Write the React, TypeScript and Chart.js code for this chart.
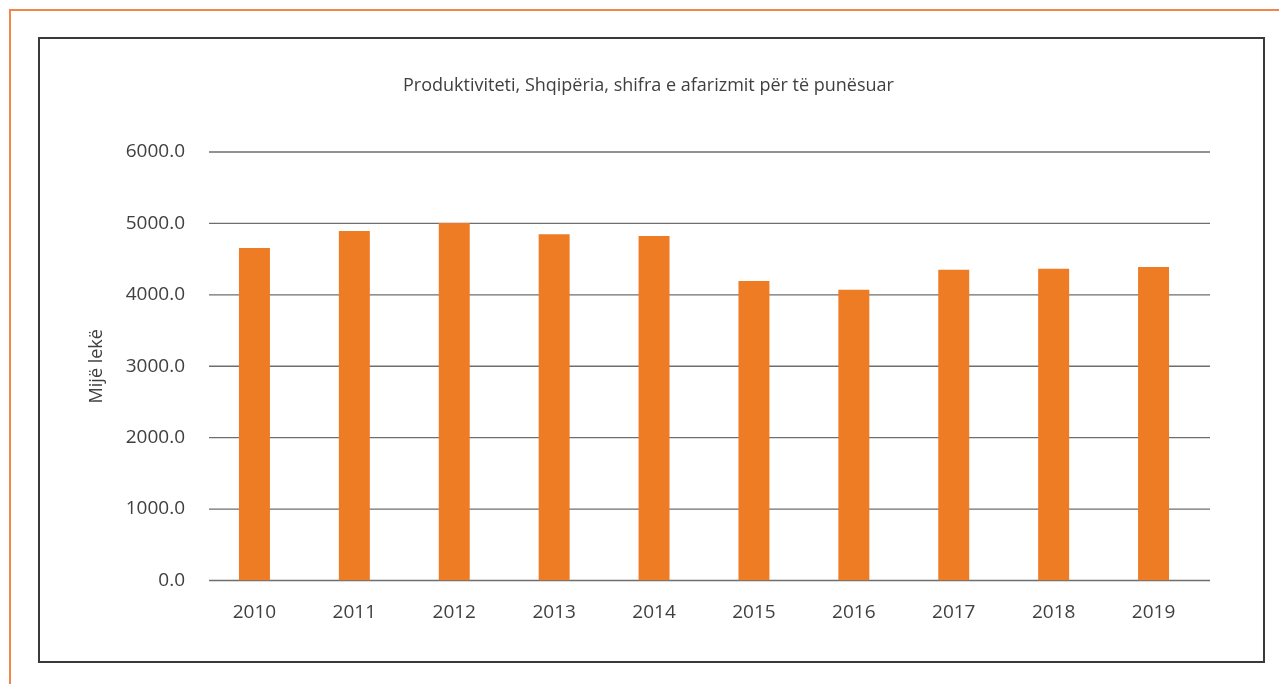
import React, { useEffect, useRef } from "react";
import { Chart, registerables } from "chart.js";

Chart.register(...registerables);

const categories = ["2010", "2011", "2012", "2013", "2014", "2015", "2016", "2017", "2018", "2019"];
const values = [4655, 4895, 5005, 4850, 4825, 4195, 4070, 4350, 4365, 4390];
const yTicks = [0, 1000, 2000, 3000, 4000, 5000, 6000];
const chartTitle = "Produktiviteti, Shqipëria, shifra e afarizmit për të punësuar";
const yAxisTitle = "Mijë lekë";

const FONT = "'Open Sans', 'DejaVu Sans', sans-serif";
const TEXT = "#404040";

const gridPlugin = {
  id: "customGrid",
  beforeDatasetsDraw(chart: any) {
    const { ctx, chartArea, scales } = chart;
    ctx.save();
    ctx.strokeStyle = "#6e6e6e";
    ctx.lineWidth = 1.3;
    yTicks.forEach((v) => {
      const y = scales.y.getPixelForValue(v);
      ctx.beginPath();
      ctx.moveTo(chartArea.left + 4.5, y);
      ctx.lineTo(chartArea.right + 6.5, y);
      ctx.stroke();
    });
    ctx.restore();
  },
};

export default function App() {
  const ref = useRef<HTMLCanvasElement | null>(null);

  useEffect(() => {
    if (!ref.current) return;
    const chart = new Chart(ref.current, {
      type: "bar",
      data: {
        labels: categories,
        datasets: [
          {
            data: values,
            backgroundColor: "#EE7C24",
            borderWidth: 0,
            barPercentage: 0.31,
            categoryPercentage: 1,
          },
        ],
      },
      options: {
        animation: false,
        responsive: false,
        maintainAspectRatio: false,
        layout: { padding: { left: 93.5, right: 75.5, top: 0, bottom: 0 } },
        plugins: {
          legend: { display: false },
          tooltip: { enabled: false },
          title: {
            display: true,
            text: chartTitle,
            color: TEXT,
            font: { family: FONT, size: 18, weight: "normal" },
            padding: { top: 75, bottom: 55.4 },
          },
        },
        scales: {
          x: {
            grid: { display: false, drawTicks: false },
            border: { display: false },
            ticks: {
              color: TEXT,
              font: { family: FONT, size: 19 },
              padding: 21,
              maxRotation: 0,
            },
            afterFit(scale: any) {
              scale.height = 103.5;
            },
          },
          y: {
            min: 0,
            max: 6000,
            grid: { display: false, drawTicks: false },
            border: { display: false },
            ticks: {
              stepSize: 1000,
              color: TEXT,
              font: { family: FONT, size: 19 },
              padding: 19.5,
              callback: (v: any) => Number(v).toFixed(1),
            },
            title: {
              display: true,
              text: yAxisTitle,
              color: TEXT,
              font: { family: FONT, size: 18 },
              padding: { top: -7.4, bottom: 0 },
            },
            afterFit(scale: any) {
              scale.width = 111;
            },
          },
        },
      },
      plugins: [gridPlugin],
    });
    return () => chart.destroy();
  }, []);

  return (
    <div style={{ position: "fixed", left: 0, top: 0, width: 1279, height: 684, background: "#fff", overflow: "hidden" }}>
      <div style={{ position: "absolute", left: 9, top: 9, right: 0, height: 2, background: "#F58549" }} />
      <div style={{ position: "absolute", left: 9, top: 9, bottom: 0, width: 2, background: "#F58549" }} />
      <div
        style={{
          position: "absolute",
          left: 38,
          top: 37,
          width: 1227,
          height: 626,
          boxSizing: "border-box",
          border: "2px solid #3a3a3a",
        }}
      />
      <canvas ref={ref} width={1279} height={684} style={{ position: "absolute", left: 0, top: 0, width: 1279, height: 684 }} />
    </div>
  );
}
